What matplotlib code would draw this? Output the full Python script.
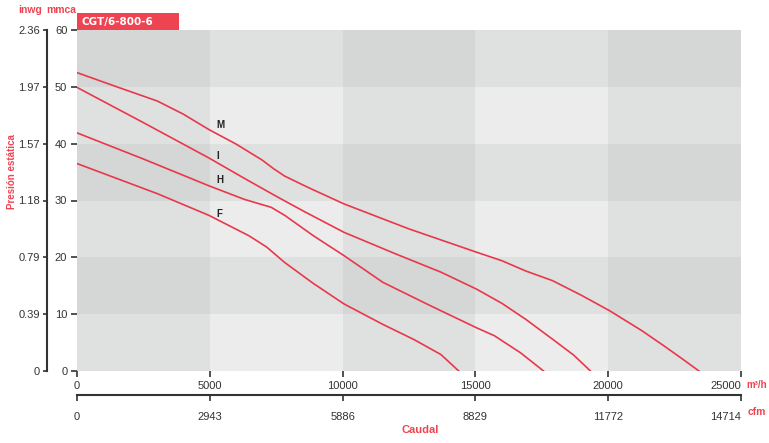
import matplotlib
matplotlib.use("Agg")
import matplotlib.pyplot as plt
from matplotlib.patches import Rectangle

# flow in m3/h, static pressure in mmca
curve_names = ["M", "I", "H", "F"]
m_flow = [0, 1500, 3026, 4000, 4960, 6000, 6976, 7400, 7817, 8700, 10053, 12500, 15045, 16000, 16894, 17903, 19000, 20055, 21265, 22106, 22800, 23417]
m_pres = [52.5, 50.0, 47.5, 45.2, 42.5, 39.9, 37.1, 35.6, 34.3, 32.3, 29.4, 25.0, 20.9, 19.4, 17.6, 15.9, 13.3, 10.6, 7.1, 4.4, 2.1, 0]
i_flow = [0, 2500, 4960, 6300, 7480, 8500, 10053, 12000, 13700, 15045, 16000, 16894, 17903, 18700, 19332]
i_pres = [49.9, 43.7, 37.5, 33.9, 30.8, 28.2, 24.4, 20.6, 17.4, 14.4, 11.9, 9.1, 5.6, 2.8, 0]
h_flow = [0, 2500, 4960, 6300, 7312, 7817, 8900, 10053, 11516, 13300, 15045, 15717, 16700, 17566]
h_pres = [41.9, 37.3, 32.6, 30.2, 28.8, 27.4, 23.8, 20.3, 15.6, 11.5, 7.6, 6.2, 3.2, 0]
f_flow = [0, 3026, 4960, 6473, 7144, 7817, 8900, 10053, 11516, 12700, 13700, 14373]
f_pres = [36.5, 31.2, 27.4, 23.8, 21.8, 19.1, 15.4, 11.8, 8.2, 5.5, 2.9, 0]

label_flow = [5250, 5250, 5250, 5250]
label_pres = [43.3, 37.8, 33.6, 27.6]

x_ticks = [0, 5000, 10000, 15000, 20000, 25000]
cfm_labels = ["0", "2943", "5886", "8829", "11772", "14714"]
y_ticks = [0, 10, 20, 30, 40, 50, 60]
inwg_labels = ["0", "0.39", "0.79", "1.18", "1.57", "1.97", "2.36"]

RED = "#ee4452"
LINE = "#e8384b"
TXT = "#333333"
FONT = ["Liberation Sans", "DejaVu Sans"]

W, H = 769, 443
fig = plt.figure(figsize=(W / 100, H / 100), dpi=100)


def frac(x0, y0, x1, y1):
    return [x0 / W, 1 - y1 / H, (x1 - x0) / W, (y1 - y0) / H]


ax = fig.add_axes(frac(77, 30, 741, 371))
ax.set_xlim(0, 25000)
ax.set_ylim(0, 60)

# checkerboard background
shades = {0: "#d5d6d6", 1: "#dfe0e0", 2: "#ebeceb"}
for ci in range(len(x_ticks) - 1):
    for ri in range(len(y_ticks) - 1):
        light = (ci % 2) + (1 - ri % 2)
        ax.add_patch(Rectangle((x_ticks[ci], y_ticks[ri]),
                               x_ticks[ci + 1] - x_ticks[ci],
                               y_ticks[ri + 1] - y_ticks[ri],
                               facecolor=shades[light], edgecolor="none", zorder=0))

for fl, pr in [(m_flow, m_pres), (i_flow, i_pres), (h_flow, h_pres), (f_flow, f_pres)]:
    ax.plot(fl, pr, color=LINE, lw=1.2, zorder=3, solid_joinstyle="round")

for name, lx, ly in zip(curve_names, label_flow, label_pres):
    ax.text(lx, ly, name, fontsize=7, fontweight="bold", color="#222222",
            ha="left", va="center", zorder=4, family=FONT)

for s in ax.spines.values():
    s.set_visible(False)
ax.set_xticks(x_ticks)
ax.set_xticklabels([str(v) for v in x_ticks], family=FONT)
ax.set_yticks(y_ticks)
ax.set_yticklabels([str(v) for v in y_ticks], family=FONT)
ax.tick_params(axis="both", direction="out", length=4, width=1.2, color=TXT,
               labelsize=8, labelcolor=TXT, pad=3)
ax.get_xticklabels()[-1].set_ha("right")

# inwg axis on the far left
ax2 = fig.add_axes(frac(47, 30, 48, 371))
ax2.set_ylim(0, 60)
ax2.set_xticks([])
ax2.patch.set_visible(False)
for k in ["top", "right", "bottom"]:
    ax2.spines[k].set_visible(False)
ax2.spines["left"].set_linewidth(1.5)
ax2.spines["left"].set_color(TXT)
ax2.set_yticks(y_ticks)
ax2.set_yticklabels(inwg_labels, family=FONT)
ax2.tick_params(axis="y", direction="out", length=3, width=1.2, color=TXT,
                labelsize=8, labelcolor=TXT, pad=2)

# cfm axis below
ax3 = fig.add_axes(frac(77, 394, 741, 395))
ax3.set_xlim(0, 25000)
ax3.set_yticks([])
ax3.patch.set_visible(False)
for k in ["top", "right", "left"]:
    ax3.spines[k].set_visible(False)
ax3.spines["bottom"].set_linewidth(1.5)
ax3.spines["bottom"].set_color(TXT)
ax3.set_xticks(x_ticks)
ax3.set_xticklabels(cfm_labels, family=FONT)
ax3.tick_params(axis="x", direction="out", length=4, width=1.2, color=TXT,
                labelsize=8, labelcolor=TXT, pad=8)
ax3.get_xticklabels()[-1].set_ha("right")

# titles and units
fig.text(30 / W, 1 - 10 / H, "inwg", color=RED, fontsize=7.5, fontweight="bold",
         ha="center", va="center", family=FONT)
fig.text(61 / W, 1 - 10 / H, "mmca", color=RED, fontsize=7.5, fontweight="bold",
         ha="center", va="center", family=FONT)
fig.text(12 / W, 1 - 172 / H, "Presión estática", color=RED, fontsize=7,
         fontweight="bold", rotation=90, ha="center", va="center", family=FONT)
fig.text(746 / W, 1 - 385 / H, "m³/h", color=RED, fontsize=7, fontweight="bold",
         ha="left", va="center", family=FONT)
fig.text(748 / W, 1 - 412 / H, "cfm", color=RED, fontsize=7.5, fontweight="bold",
         ha="left", va="center", family=FONT)
fig.text(420 / W, 1 - 430 / H, "Caudal", color=RED, fontsize=8, fontweight="bold",
         ha="center", va="center", family=FONT)

box = fig.add_axes(frac(77, 13, 179, 30))
box.set_facecolor(RED)
box.set_xticks([])
box.set_yticks([])
for s in box.spines.values():
    s.set_visible(False)
box.text(0.04, 0.5, "CGT/6-800-6", color="white", fontsize=7.5, fontweight="bold",
         ha="left", va="center", transform=box.transAxes)

fig.savefig("out.png", dpi=100)
